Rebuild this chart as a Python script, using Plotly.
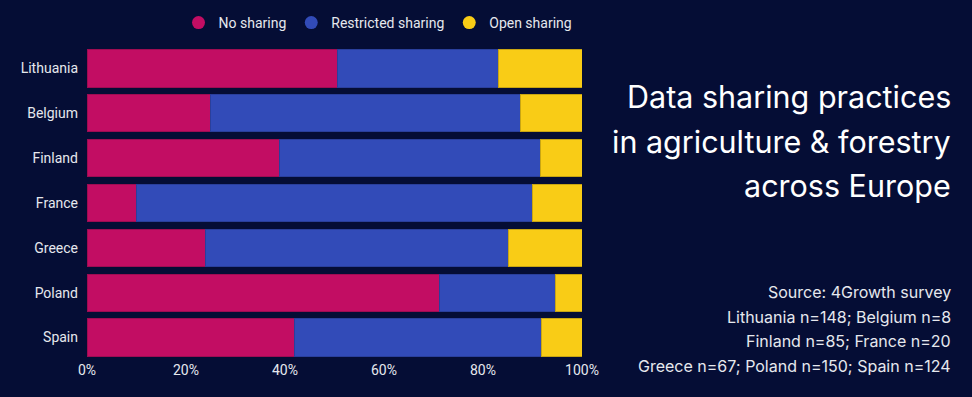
import plotly.graph_objects as go

countries = ["Lithuania", "Belgium", "Finland", "France", "Greece", "Poland", "Spain"]
no_sharing = [50.7, 25.0, 38.8, 10.0, 23.9, 71.3, 41.9]
restricted_sharing = [32.4, 62.5, 52.9, 80.0, 61.2, 23.3, 50.0]
open_sharing = [16.9, 12.5, 8.3, 10.0, 14.9, 5.4, 8.1]
series_names = ["No sharing", "Restricted sharing", "Open sharing"]
series_colors = ["#C20D63", "#324BB8", "#F9CC16"]
line_colors = ["#9E0C52", "#2A3F9C", "#C9A512"]
tick_vals = [0, 20, 40, 60, 80, 100]
tick_text = ["0%", "20%", "40%", "60%", "80%", "100%"]
title_lines = ["Data sharing practices", "in agriculture & forestry", "across Europe"]
source_lines = ["Source: 4Growth survey", "Lithuania n=148; Belgium n=8",
                "Finland n=85; France n=20", "Greece n=67; Poland n=150; Spain n=124"]

BG = "#050D35"
TXT = "#E6E8EE"

fig = go.Figure()
for name, vals, col, lc in zip(series_names, [no_sharing, restricted_sharing, open_sharing],
                               series_colors, line_colors):
    fig.add_trace(go.Bar(
        y=countries, x=vals, name=name, orientation="h",
        marker=dict(color=col, line=dict(color=lc, width=1)),
        showlegend=False,
    ))
    fig.add_trace(go.Scatter(
        x=[None], y=[None], mode="markers", name=name,
        marker=dict(color=col, size=13, symbol="circle"),
        showlegend=True,
    ))

# plot area: x pixels 87..582, y pixels 46..360
L, R, T, B = 87, 390, 46, 37
W, H = 972, 397
pw, ph = W - L - R, H - T - B

def px_to_paper_x(px):
    return (px - L) / pw

def px_to_paper_y(py):
    return (H - B - py) / ph

annotations = []
for i, line in enumerate(title_lines):
    annotations.append(dict(
        text=line, xref="paper", yref="paper",
        x=px_to_paper_x(953), y=px_to_paper_y(97 + 44 * i),
        xanchor="right", yanchor="middle", showarrow=False,
        font=dict(family="Inter", size=30.5, color="#FFFFFF"),
    ))
for i, line in enumerate(source_lines):
    annotations.append(dict(
        text=line, xref="paper", yref="paper",
        x=px_to_paper_x(953), y=px_to_paper_y(292 + 24.7 * i),
        xanchor="right", yanchor="middle", showarrow=False,
        font=dict(family="Inter", size=16, color=TXT),
    ))

fig.update_layout(
    width=W, height=H,
    barmode="stack", bargap=0.168,
    paper_bgcolor=BG, plot_bgcolor=BG,
    margin=dict(l=L, r=R, t=T, b=B, autoexpand=False),
    font=dict(family="Roboto", size=14, color=TXT),
    xaxis=dict(range=[0, 100], tickvals=tick_vals, ticktext=tick_text,
               showgrid=False, zeroline=False, showline=False,
               ticks="", ticklen=0, tickfont=dict(size=14, color=TXT, family="Roboto")),
    yaxis=dict(categoryorder="array", categoryarray=countries[::-1],
               showgrid=False, zeroline=False, showline=False,
               ticks="", ticklabelstandoff=8,
               tickfont=dict(size=14, color=TXT, family="Roboto")),
    legend=dict(orientation="h", x=px_to_paper_x(378), xanchor="center",
                y=px_to_paper_y(23), yanchor="middle", traceorder="normal",
                font=dict(size=14, color=TXT, family="Roboto"),
                bgcolor="rgba(0,0,0,0)", itemwidth=30),
    annotations=annotations,
)

fig.write_html("out.html", config={"displayModeBar": False},
               post_script="document.body.style.margin='0';document.body.style.background='" + BG + "';")
